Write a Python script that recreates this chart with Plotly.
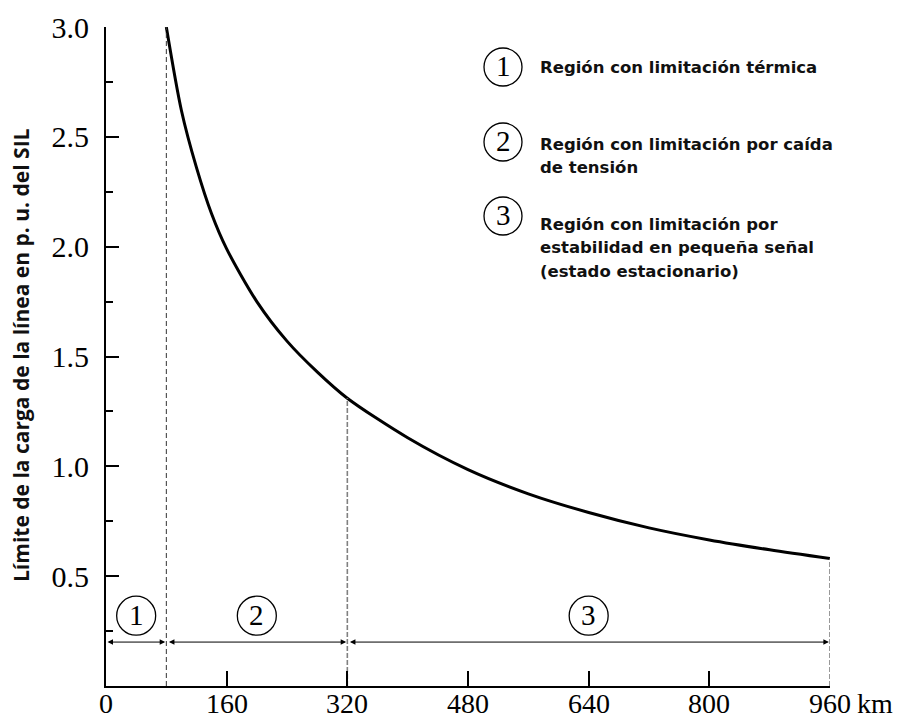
import plotly.graph_objects as go

# ---------------- data ----------------
distance_km = [80, 100, 120, 140, 160, 200, 240, 280, 320, 400, 480, 560, 640, 720, 800, 880, 960]
load_limit_pu = [3.0, 2.62, 2.36, 2.15, 1.99, 1.75, 1.57, 1.43, 1.31, 1.13, 0.985, 0.875, 0.79, 0.72, 0.665, 0.62, 0.58]

region_bounds_km = [0, 80, 320, 960]
region_labels = ["1", "2", "3"]
legend_lines = [
    ["Región con limitación térmica"],
    ["Región con limitación por caída", "de tensión"],
    ["Región con limitación por", "estabilidad en pequeña señal", "(estado estacionario)"],
]

x_ticks = [0, 160, 320, 480, 640, 800, 960]
x_tick_text = ["0", "160", "320", "480", "640", "800", "960"]
y_ticks = [0.5, 1.0, 1.5, 2.0, 2.5, 3.0]
y_tick_text = ["0.5", "1.0", "1.5", "2.0", "2.5", "3.0"]
y_title = "Límite de la carga de la línea en p. u. del SIL"
x_unit = "km"

# ---------------- layout geometry ----------------
# the page body adds an 8px offset, so the figure is drawn 8px smaller
OFF = 8
W, H = 913 - OFF, 720 - OFF
# plot area in reference-picture pixels
PL, PR, PT, PB = 106, 830, 27, 686
L, T = PL - OFF, PT - OFF
R, B = W - (PR - OFF), H - (PB - OFF)
PW, PH = PR - PL, PB - PT


def px(xp):
    return (xp - PL) / PW


def py(yp):
    return (PB - yp) / PH


arrow_y = 0.20
circle_y = 0.32
serif = "Liberation Serif"
x_label_center_y = 703
x_label_size = 28

fig = go.Figure()

# main curve
fig.add_trace(go.Scatter(
    x=distance_km, y=load_limit_pu, mode="lines",
    line=dict(color="black", width=3, shape="spline", smoothing=0.8),
    hoverinfo="skip", showlegend=False))


def curve_at(km):
    return load_limit_pu[distance_km.index(km)]


# dashed region boundaries
b1 = region_bounds_km[1]
fig.add_trace(go.Scatter(
    x=[b1, b1], y=[0, curve_at(b1)], mode="lines",
    line=dict(color="#333333", width=1, dash="5px,3px"),
    hoverinfo="skip", showlegend=False))
for b in region_bounds_km[2:]:
    fig.add_trace(go.Scatter(
        x=[b, b], y=[0, curve_at(b)], mode="lines",
        line=dict(color="#808080", width=1.6, dash="5px,2px"),
        hoverinfo="skip", showlegend=False))

annotations = []
shapes = []

# region double arrows and circled numbers
gap = 1.5
for i, lab in enumerate(region_labels):
    x0 = region_bounds_km[i] + (gap if i > 0 else 0)
    x1 = region_bounds_km[i + 1] - gap
    annotations.append(dict(
        x=x1, y=arrow_y, ax=x0, ay=arrow_y, xref="x", yref="y", axref="x", ayref="y",
        text="", showarrow=True, arrowside="end+start", arrowhead=2,
        arrowsize=1.1, arrowwidth=1, arrowcolor="black", standoff=0, startstandoff=0))
    mid = (region_bounds_km[i] + region_bounds_km[i + 1]) / 2
    shapes.append(dict(
        type="circle", xref="x", yref="y", xsizemode="pixel", ysizemode="pixel",
        xanchor=mid, yanchor=circle_y, x0=-19.5, x1=19.5, y0=-19.5, y1=19.5,
        line=dict(color="black", width=1.3)))
    annotations.append(dict(
        x=mid, y=circle_y, xref="x", yref="y", text=lab, showarrow=False,
        font=dict(family=serif, size=29, color="black"),
        xanchor="center", yanchor="middle", yshift=1))

# legend block (top right)
legend_circle_y = [67, 142, 216]
legend_text_y0 = [67, 144, 224]
line_step = 23.5
for i, lines in enumerate(legend_lines):
    shapes.append(dict(
        type="circle", xref="paper", yref="paper", xsizemode="pixel", ysizemode="pixel",
        xanchor=px(503), yanchor=py(legend_circle_y[i]), x0=-19, x1=19, y0=-19, y1=19,
        line=dict(color="black", width=1.3)))
    annotations.append(dict(
        x=px(503), y=py(legend_circle_y[i]), xref="paper", yref="paper",
        text=region_labels[i], showarrow=False,
        font=dict(family=serif, size=29, color="black"),
        xanchor="center", yanchor="middle", yshift=1))
    for j, t in enumerate(lines):
        annotations.append(dict(
            x=px(538), y=py(legend_text_y0[i] + j * line_step), xref="paper", yref="paper",
            text=t, showarrow=False, xanchor="left", yanchor="middle",
            font=dict(family="DejaVu Sans", size=16.5, color="#111111", weight="bold")))

# x tick labels (placed as text so they sit close under the axis)
for v, t in zip(x_ticks, x_tick_text):
    annotations.append(dict(
        x=v, y=py(x_label_center_y), xref="x", yref="paper", text=t, showarrow=False,
        xanchor="center", yanchor="middle",
        font=dict(family=serif, size=x_label_size, color="black")))

# km unit label
annotations.append(dict(
    x=px(855), y=py(x_label_center_y), xref="paper", yref="paper", text=x_unit, showarrow=False,
    xanchor="left", yanchor="middle",
    font=dict(family=serif, size=x_label_size, color="black")))

# y axis title
annotations.append(dict(
    x=px(21), y=py(355), xref="paper", yref="paper", text=y_title, showarrow=False,
    textangle=-90, xanchor="center", yanchor="middle",
    font=dict(family="Open Sans", size=21, color="#111111", weight="bold")))

fig.update_layout(
    width=W, height=H,
    margin=dict(l=L, r=R, t=T, b=B, autoexpand=False),
    paper_bgcolor="white", plot_bgcolor="white",
    showlegend=False,
    shapes=shapes, annotations=annotations,
    xaxis=dict(
        range=[0, 960], tickvals=x_ticks, showticklabels=False,
        ticks="inside", ticklen=15, tickwidth=1.5, tickcolor="black",
        showline=True, linecolor="black", linewidth=2,
        showgrid=False, zeroline=False),
    yaxis=dict(
        range=[0, 3.0], tickvals=y_ticks, ticktext=y_tick_text,
        ticks="inside", ticklen=13, tickwidth=1.5, tickcolor="black",
        showline=True, linecolor="black", linewidth=2,
        showgrid=False, zeroline=False,
        minor=dict(dtick=0.25, tick0=0, ticks="inside", ticklen=7, tickwidth=1.5, tickcolor="black", showgrid=False),
        tickfont=dict(family=serif, size=30, color="black"),
        ticklabelstandoff=9),
)

fig.write_html("out.html")
